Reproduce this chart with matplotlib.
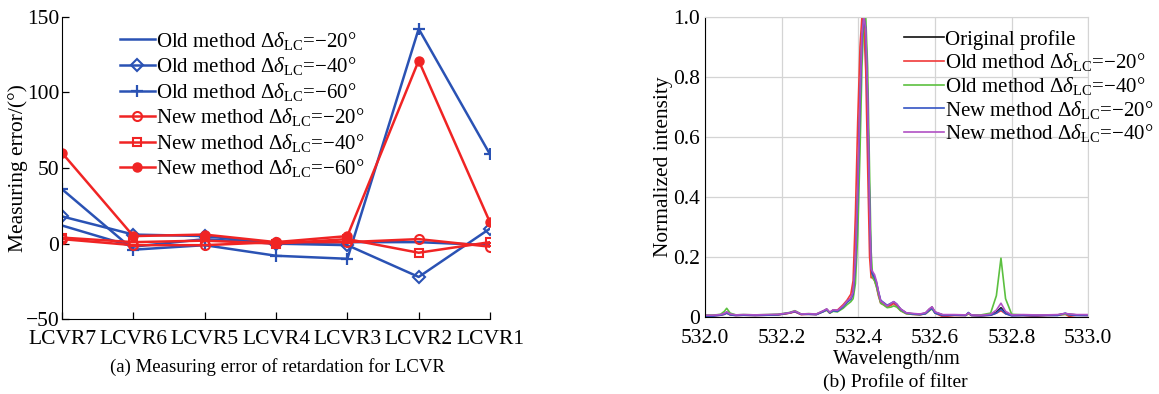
import matplotlib
matplotlib.use("Agg")
import matplotlib.pyplot as plt

plt.rcParams["font.family"] = ["Liberation Serif", "DejaVu Serif"]
plt.rcParams["mathtext.fontset"] = "custom"
plt.rcParams["mathtext.rm"] = "Liberation Serif"
plt.rcParams["mathtext.it"] = "Liberation Serif:italic"
plt.rcParams["mathtext.bf"] = "Liberation Serif:bold"
plt.rcParams["axes.unicode_minus"] = True

# ---------------- (a) retardation error per LCVR ----------------
lcvr_labels = ["LCVR7", "LCVR6", "LCVR5", "LCVR4", "LCVR3", "LCVR2", "LCVR1"]

old_20 = [12, -2, 3, 0, 1, 1, -1]
old_40 = [18, 6, 5, 0, -1, -22, 10]
old_60 = [36, -4, -1, -8, -10, 142, 59]
new_20 = [3, -1, -1, 1, 1, 3, -2]
new_40 = [4, 1, 2, 0, 3, -6, 1]
new_60 = [60, 5, 6, 1, 5, 121, 14]

# ---------------- (b) filter profile ----------------
wavelength = [532.00, 532.02, 532.04, 532.05, 532.056, 532.065, 532.08, 532.10,
              532.13, 532.16, 532.19, 532.22, 532.234, 532.25, 532.27, 532.29,
              532.31, 532.317, 532.325, 532.334, 532.345, 532.36, 532.37, 532.38,
              532.386, 532.392, 532.398, 532.404, 532.409, 532.414, 532.419, 532.424,
              532.429, 532.433, 532.437, 532.442, 532.447, 532.452, 532.458, 532.465,
              532.475, 532.485, 532.492, 532.50, 532.51, 532.525, 532.54, 532.56,
              532.575, 532.585, 532.592, 532.60, 532.62, 532.65, 532.68, 532.687,
              532.695, 532.72, 532.745, 532.76, 532.772, 532.784, 532.80, 532.83,
              532.86, 532.89, 532.92, 532.94, 532.95, 532.97, 533.00]

original = [0.004, 0.004, 0.006, 0.010, 0.015, 0.008, 0.005, 0.006,
            0.005, 0.006, 0.007, 0.012, 0.018, 0.008, 0.009, 0.008,
            0.020, 0.025, 0.014, 0.022, 0.020, 0.035, 0.050, 0.060,
            0.080, 0.180, 0.420, 0.720, 0.930, 1.000, 0.950, 0.700,
            0.350, 0.150, 0.140, 0.130, 0.110, 0.080, 0.050, 0.045,
            0.035, 0.042, 0.048, 0.040, 0.025, 0.012, 0.010, 0.008,
            0.012, 0.025, 0.032, 0.015, 0.006, 0.006, 0.005, 0.012,
            0.005, 0.004, 0.006, 0.015, 0.030, 0.012, 0.005, 0.006,
            0.005, 0.005, 0.006, 0.010, 0.008, 0.006, 0.006]

old_m20 = [0.003, 0.003, 0.005, 0.008, 0.012, 0.006, 0.004, 0.005,
           0.004, 0.005, 0.006, 0.012, 0.016, 0.007, 0.008, 0.007,
           0.018, 0.022, 0.012, 0.020, 0.022, 0.040, 0.055, 0.075,
           0.120, 0.340, 0.650, 0.900, 1.000, 0.970, 0.820, 0.500,
           0.200, 0.130, 0.130, 0.120, 0.100, 0.070, 0.045, 0.040,
           0.032, 0.038, 0.044, 0.036, 0.020, 0.010, 0.008, 0.006,
           0.010, 0.020, 0.028, 0.012, 0.000, 0.004, 0.004, 0.010,
           0.004, 0.003, 0.005, 0.012, 0.020, 0.010, 0.004, 0.004,
           0.001, 0.004, 0.005, 0.008, 0.001, 0.005, 0.004]

old_m40 = [0.005, 0.005, 0.008, 0.018, 0.028, 0.012, 0.006, 0.007,
           0.006, 0.007, 0.008, 0.014, 0.020, 0.009, 0.010, 0.009,
           0.018, 0.022, 0.012, 0.018, 0.016, 0.028, 0.040, 0.050,
           0.060, 0.110, 0.270, 0.550, 0.830, 0.990, 1.000, 0.830,
           0.480, 0.220, 0.130, 0.120, 0.100, 0.075, 0.045, 0.040,
           0.030, 0.032, 0.036, 0.032, 0.020, 0.010, 0.008, 0.007,
           0.010, 0.020, 0.026, 0.012, 0.006, 0.006, 0.005, 0.010,
           0.006, 0.006, 0.012, 0.070, 0.195, 0.060, 0.008, 0.006,
           0.006, 0.006, 0.006, 0.008, 0.007, 0.006, 0.006]

new_m20 = [0.002, 0.002, 0.005, 0.008, 0.012, 0.006, 0.004, 0.005,
           0.004, 0.005, 0.006, 0.013, 0.017, 0.008, 0.008, 0.007,
           0.018, 0.024, 0.013, 0.020, 0.018, 0.033, 0.048, 0.058,
           0.075, 0.170, 0.400, 0.700, 0.920, 1.000, 0.960, 0.720,
           0.380, 0.160, 0.140, 0.130, 0.115, 0.085, 0.055, 0.048,
           0.038, 0.045, 0.050, 0.042, 0.025, 0.012, 0.009, 0.007,
           0.010, 0.022, 0.028, 0.012, 0.004, 0.005, 0.004, 0.014,
           0.004, 0.003, 0.005, 0.012, 0.025, 0.010, 0.003, 0.004,
           0.003, 0.004, 0.004, 0.012, 0.006, 0.004, 0.004]

new_m40 = [0.005, 0.005, 0.007, 0.011, 0.016, 0.009, 0.006, 0.007,
           0.006, 0.007, 0.008, 0.013, 0.019, 0.009, 0.010, 0.009,
           0.021, 0.026, 0.015, 0.023, 0.021, 0.036, 0.052, 0.062,
           0.082, 0.190, 0.430, 0.730, 0.940, 1.000, 0.960, 0.720,
           0.370, 0.160, 0.150, 0.140, 0.118, 0.085, 0.052, 0.046,
           0.036, 0.044, 0.050, 0.042, 0.026, 0.013, 0.011, 0.009,
           0.013, 0.026, 0.033, 0.016, 0.007, 0.007, 0.006, 0.012,
           0.006, 0.005, 0.008, 0.022, 0.045, 0.018, 0.006, 0.007,
           0.006, 0.006, 0.007, 0.011, 0.009, 0.007, 0.007]

wl_ticks = [532.0, 532.2, 532.4, 532.6, 532.8, 533.0]
int_ticks = [0, 0.2, 0.4, 0.6, 0.8, 1.0]
int_tick_labels = ["0", "0.2", "0.4", "0.6", "0.8", "1.0"]

FS = 15.5
BLUE = "#2a52b4"
RED = "#f02424"

def lc_label(method, angle):
    return f"{method} method " + r"$\Delta\delta_{\mathrm{LC}}$" + f"=\u2212{angle}\u00b0"

fig = plt.figure(figsize=(11.59, 3.94), dpi=100)

# ---- left panel ----
ax1 = fig.add_axes([0.0535, 0.1896, 0.3693, 0.768])
x = list(range(len(lcvr_labels)))
lw = 1.8
ax1.plot(x, old_20, color=BLUE, lw=lw, label=lc_label("Old", 20))
ax1.plot(x, old_40, color=BLUE, lw=lw, marker="D", ms=6, mfc="none", mew=1.5,
         label=lc_label("Old", 40))
ax1.plot(x, old_60, color=BLUE, lw=lw, marker="+", ms=8, mew=1.6,
         label=lc_label("Old", 60))
ax1.plot(x, new_20, color=RED, lw=lw, marker="o", ms=6.5, mfc="none", mew=1.5,
         label=lc_label("New", 20))
ax1.plot(x, new_40, color=RED, lw=lw, marker="s", ms=6, mfc="none", mew=1.5,
         label=lc_label("New", 40))
ax1.plot(x, new_60, color=RED, lw=lw, marker="o", ms=6.5, label=lc_label("New", 60))

ax1.set_xlim(0, len(lcvr_labels) - 1)
ax1.set_ylim(-50, 150)
ax1.set_xticks(x)
ax1.set_xticklabels(lcvr_labels)
ax1.set_yticks([-50, 0, 50, 100, 150])
ax1.spines["top"].set_visible(False)
ax1.spines["right"].set_visible(False)
ax1.tick_params(direction="in", labelsize=FS, length=5, width=0.9, pad=2)
ax1.tick_params(axis="x", pad=8)
ax1.set_ylabel("Measuring error/(\u00b0)", fontsize=15.5, labelpad=-1.5)
ax1.legend(loc="upper left", bbox_to_anchor=(0.135, 0.957), frameon=False,
           fontsize=15, handlelength=1.7, handletextpad=0.05, labelspacing=0.17,
           borderpad=0, borderaxespad=0)
fig.text(0.2394, 0.068, "(a) Measuring error of retardation for LCVR",
         ha="center", va="center", fontsize=13.5)

# ---- right panel ----
ax2 = fig.add_axes([0.6085, 0.1962, 0.3305, 0.7614])
ax2.plot(wavelength, original, color="#111111", lw=1.2, label="Original profile")
ax2.plot(wavelength, old_m20, color="#f03a3a", lw=1.2, label=lc_label("Old", 20))
ax2.plot(wavelength, old_m40, color="#5cc040", lw=1.2, label=lc_label("Old", 40))
ax2.plot(wavelength, new_m20, color="#3454c4", lw=1.2, label=lc_label("New", 20))
ax2.plot(wavelength, new_m40, color="#b050c4", lw=1.2, label=lc_label("New", 40))
ax2.set_xlim(532.0, 533.0)
ax2.set_ylim(0, 1.0)
ax2.set_xticks(wl_ticks)
ax2.set_xticklabels([f"{v:.1f}" for v in wl_ticks])
ax2.set_yticks(int_ticks)
ax2.set_yticklabels(int_tick_labels)
ax2.grid(True, color="#d4d4d4", lw=0.9)
ax2.set_axisbelow(True)
for side in ("top", "right"):
    ax2.spines[side].set_color("#d4d4d4")
ax2.tick_params(direction="in", labelsize=FS, length=0, pad=4)
ax2.tick_params(axis="x", pad=9)
ax2.set_xlabel("Wavelength/nm", fontsize=14.6)
ax2.xaxis.set_label_coords(0.5, -0.11)
ax2.set_ylabel("Normalized intensity", fontsize=15.4, labelpad=0)
ax2.legend(loc="upper left", bbox_to_anchor=(0.52, 0.957), frameon=False,
           fontsize=15, handlelength=1.9, handletextpad=0.05, labelspacing=0.08,
           borderpad=0, borderaxespad=0)
fig.text(0.7725, 0.0305, "(b) Profile of filter", ha="center", va="center",
         fontsize=14)

fig.savefig("out.png", dpi=100)
